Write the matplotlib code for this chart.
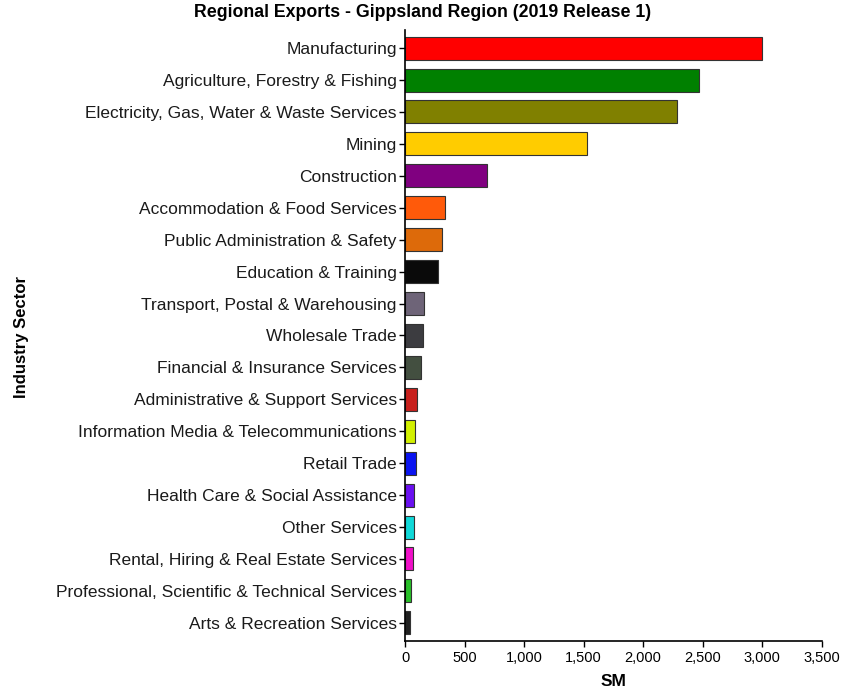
import matplotlib.pyplot as plt
from matplotlib.ticker import FuncFormatter

plt.rcParams['font.family'] = ['Liberation Sans', 'DejaVu Sans']

# Exports by industry sector, $M
sectors = [
    'Manufacturing',
    'Agriculture, Forestry & Fishing',
    'Electricity, Gas, Water & Waste Services',
    'Mining',
    'Construction',
    'Accommodation & Food Services',
    'Public Administration & Safety',
    'Education & Training',
    'Transport, Postal & Warehousing',
    'Wholesale Trade',
    'Financial & Insurance Services',
    'Administrative & Support Services',
    'Information Media & Telecommunications',
    'Retail Trade',
    'Health Care & Social Assistance',
    'Other Services',
    'Rental, Hiring & Real Estate Services',
    'Professional, Scientific & Technical Services',
    'Arts & Recreation Services',
]
exports = [3000, 2470, 2285, 1527, 688, 334, 308, 275, 157, 149, 132,
           98, 87, 88, 79, 73, 65, 48, 39]
colours = ['#ff0000', '#008000', '#808000', '#ffcc00', '#800080',
           '#ff5a0a', '#dd6a0a', '#0a0a0a', '#6e6478', '#3c3c40',
           '#434f40', '#c8201c', '#d2f000', '#0a14f0', '#6a10f0',
           '#10d8d8', '#f010c8', '#28c028', '#202020']

fig = plt.figure(figsize=(8.41, 6.95), dpi=100)
ax = fig.add_axes([0.4816, 0.0777, 0.4954, 0.8793])

pos = list(range(len(sectors)))
ax.barh(pos, exports, height=0.72, color=colours,
        edgecolor='#333333', linewidth=0.8)

ax.set_yticks(pos)
ax.set_yticklabels(sectors, fontsize=12.5, color='#1a1a1a')
ax.set_ylim(len(sectors) - 0.43, -0.57)
ax.set_xlim(0, 3500)
ax.set_xticks(range(0, 3501, 500))
ax.xaxis.set_major_formatter(FuncFormatter(lambda v, p: f'{int(v):,}'))
ax.tick_params(axis='x', labelsize=10.5, length=4, width=1, pad=3)
ax.tick_params(axis='y', length=4, width=1, pad=2)

for s in ['top', 'right']:
    ax.spines[s].set_visible(False)
for s in ['left', 'bottom']:
    ax.spines[s].set_linewidth(1.2)

ax.set_xlabel('SM', fontsize=12.5, fontweight='bold', labelpad=7)
fig.text(0.026, 0.515, 'Industry Sector', rotation=90, fontsize=12,
         fontweight='bold', ha='center', va='center')
fig.text(0.503, 0.982, 'Regional Exports - Gippsland Region (2019 Release 1)',
         fontsize=12.8, fontweight='bold', ha='center', va='center')

fig.savefig('out.png', dpi=100)
